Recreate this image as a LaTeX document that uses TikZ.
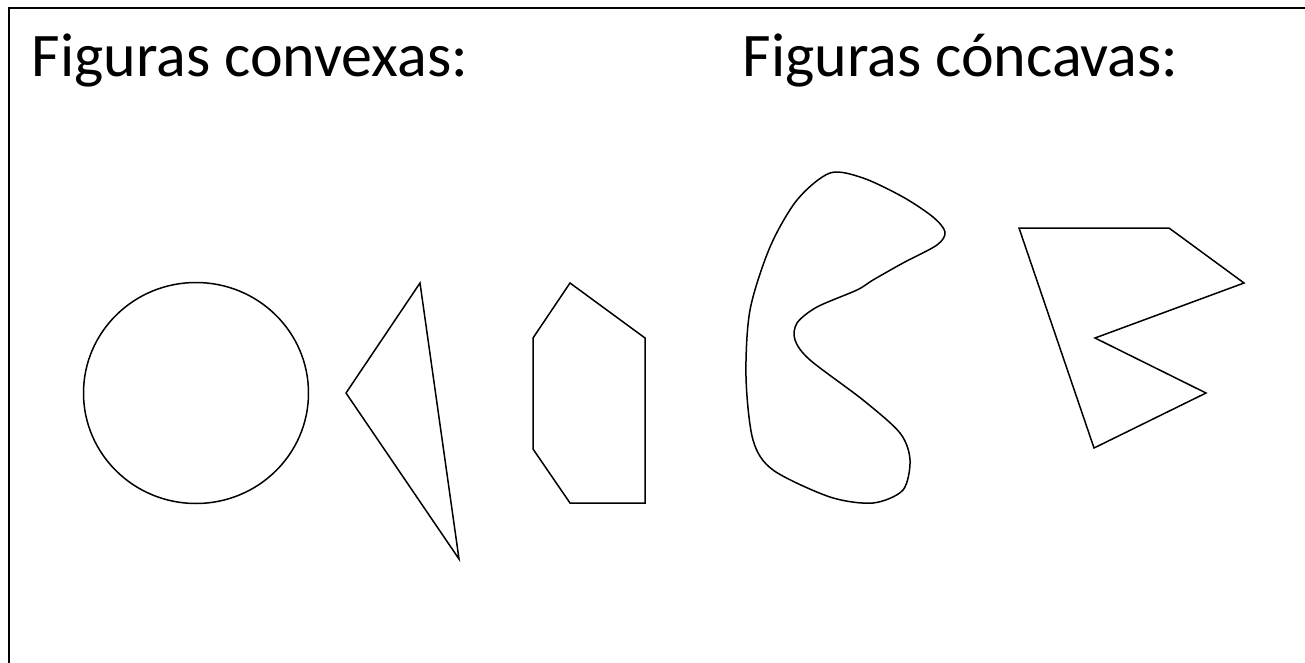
\documentclass[tikz,border=0pt]{standalone}
\usepackage{fontspec}
\setmainfont{Carlito}
\begin{document}
\begin{tikzpicture}[x=1pt,y=-1pt,line width=1.5pt,
    titulo/.style={anchor=base west,inner sep=0pt,font=\fontsize{62}{70}\selectfont}]
        \useasboundingbox (0,0) rectangle (1305,663);
        \draw[line width=2pt] (9,700) -- (9,8) -- (1320,8);
        \node[titulo] (convexas) at (31,77) {Figuras convexas:};
        \node[titulo] (concavas) at (742,77) {Figuras cóncavas:};
        % convexas
        \draw (196,393) ellipse [x radius=112.5, y radius=110.5];
        \draw (420,283) -- (346,393) -- (459,559) -- cycle;
        \draw (570,283) -- (645,338) -- (645,503) -- (570,503) -- (533,449) -- (533,338) -- cycle;
        % concavas
        \draw plot[smooth cycle,tension=0.5] coordinates {(830,173) (863,178) (903,197) (933,217)
            (945,232) (937,245) (903,263) (873,280) (857,290) (817,307) (797,323) (795,340)
            (810,360) (863,400) (900,433) (910,460) (903,490) (873,503) (830,497) (773,470)
            (753,440) (746,377) (750,310) (770,247) (797,200)};
        \draw (1019,228) -- (1169,228) -- (1244,283) -- (1095,338) -- (1206,393) -- (1094,448) -- cycle;
    \end{tikzpicture}
\end{document}
